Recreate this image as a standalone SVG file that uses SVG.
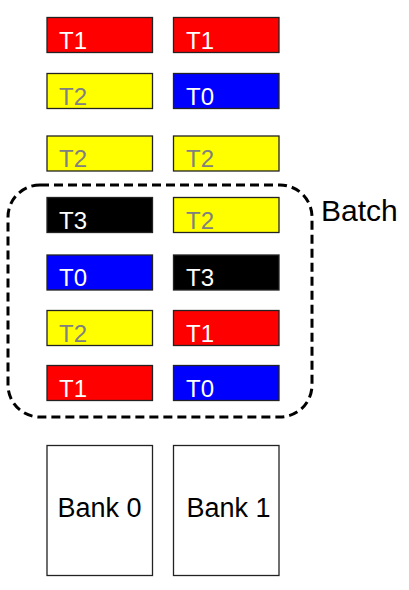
<svg xmlns="http://www.w3.org/2000/svg" width="409" height="590" viewBox="0 0 409 590">
<style>
.c{stroke:#222;stroke-width:1.3}
.r{fill:#ff0000}.y{fill:#ffff00}.b{fill:#0000ff}.k{fill:#000000}
.t{font-family:"Liberation Sans",Arial,sans-serif;font-size:24px}
.w{fill:#ffffff}.g{fill:#808080}
.bank{fill:#ffffff;stroke:#222;stroke-width:1.3}
.bl{font-family:"Liberation Sans",Arial,sans-serif;font-size:27px;fill:#000;text-anchor:middle}
</style>
<rect width="409" height="590" fill="#ffffff"/>
<g id="r1c0"><rect class="c r" x="47" y="17.5" width="105.5" height="35"/><text class="t w" x="59" y="49">T1</text></g>
<g id="r1c1"><rect class="c r" x="173.5" y="17.5" width="105.5" height="35"/><text class="t w" x="186" y="49">T1</text></g>
<g id="r2c0"><rect class="c y" x="47" y="73.5" width="105.5" height="35"/><text class="t g" x="59" y="105">T2</text></g>
<g id="r2c1"><rect class="c b" x="173.5" y="73.5" width="105.5" height="35"/><text class="t w" x="186" y="105">T0</text></g>
<g id="r3c0"><rect class="c y" x="47" y="136" width="105.5" height="35"/><text class="t g" x="59" y="167">T2</text></g>
<g id="r3c1"><rect class="c y" x="173.5" y="136" width="105.5" height="35"/><text class="t g" x="186" y="167">T2</text></g>
<g id="r4c0"><rect class="c k" x="47" y="197.5" width="105.5" height="35"/><text class="t w" x="59" y="229">T3</text></g>
<g id="r4c1"><rect class="c y" x="173.5" y="197.5" width="105.5" height="35"/><text class="t g" x="186" y="229">T2</text></g>
<g id="r5c0"><rect class="c b" x="47" y="255" width="105.5" height="35"/><text class="t w" x="59" y="286">T0</text></g>
<g id="r5c1"><rect class="c k" x="173.5" y="255" width="105.5" height="35"/><text class="t w" x="186" y="286">T3</text></g>
<g id="r6c0"><rect class="c y" x="47" y="310.5" width="105.5" height="35"/><text class="t g" x="59" y="342">T2</text></g>
<g id="r6c1"><rect class="c r" x="173.5" y="310.5" width="105.5" height="35"/><text class="t w" x="186" y="342">T1</text></g>
<g id="r7c0"><rect class="c r" x="47" y="365.5" width="105.5" height="35"/><text class="t w" x="59" y="397">T1</text></g>
<g id="r7c1"><rect class="c b" x="173.5" y="365.5" width="105.5" height="35"/><text class="t w" x="186" y="397">T0</text></g>
<g id="batch">
<rect x="8" y="185" width="304" height="232" rx="32" ry="32" fill="none" stroke="#000" stroke-width="3" stroke-dasharray="9,5"/>
<text x="321" y="221" font-family="'Liberation Sans',Arial,sans-serif" font-size="30" fill="#000">Batch</text>
</g>
<g id="bank0"><rect class="bank" x="47" y="445.5" width="105.5" height="130"/><text class="bl" x="99.5" y="516.5">Bank 0</text></g>
<g id="bank1"><rect class="bank" x="173.5" y="445.5" width="105.5" height="130"/><text class="bl" x="228.5" y="516.5">Bank 1</text></g>
<g id="connectors"></g>
</svg>
